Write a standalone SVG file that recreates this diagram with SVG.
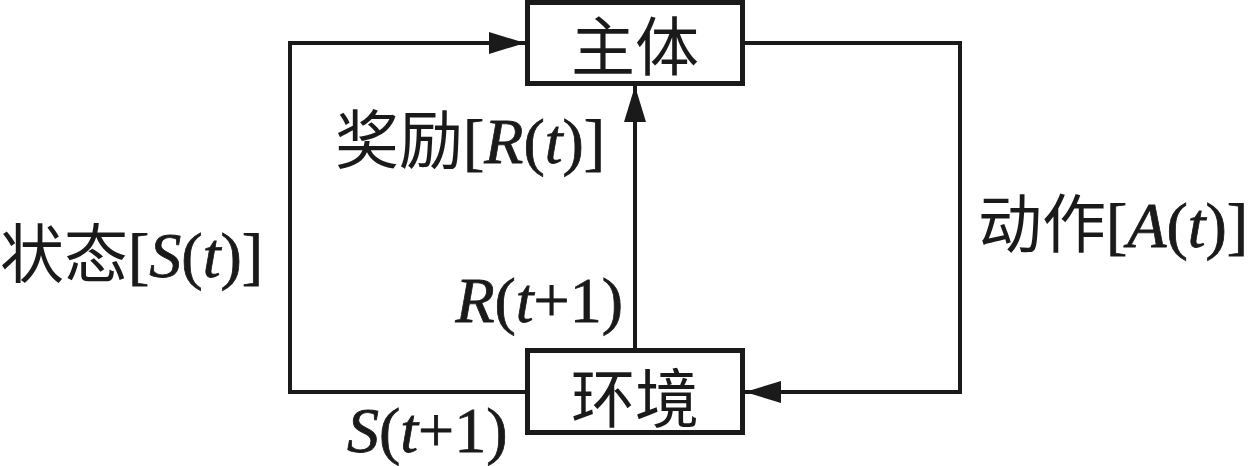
<svg xmlns="http://www.w3.org/2000/svg" width="1252" height="466" viewBox="0 0 1252 466">
<style>
.box{fill:#fff;stroke:#1a1a1a;stroke-width:5}
.conn{fill:none;stroke:#1a1a1a;stroke-width:4}
.t{font-family:'Liberation Serif',serif;font-size:64px;fill:#1a1a1a;stroke:#1a1a1a;stroke-width:0.8}
.c{font-family:'Noto Sans CJK SC',sans-serif;stroke-width:0}
.i{font-style:italic}
</style>
<defs>
<marker id="arr" viewBox="0 0 36 22" refX="36" refY="11" markerWidth="36" markerHeight="22" markerUnits="userSpaceOnUse" orient="auto">
<path d="M0,0 L36,11 L0,22 z" fill="#1a1a1a"/>
</marker>
</defs>
<rect width="1252" height="466" fill="#fff"/>
<g id="connectors">
<path class="conn" d="M527,392 H290 V43 H525" marker-end="url(#arr)"/>
<path class="conn" d="M742,43 H960 V392 H745" marker-end="url(#arr)"/>
<path class="conn" d="M635,350 V86" marker-end="url(#arr)"/>
</g>
<g id="agent">
<rect class="box" x="527.5" y="2.5" width="215" height="81"/>
<text class="t c" x="635" y="70" text-anchor="middle">主体</text>
</g>
<g id="environment">
<rect class="box" x="527.5" y="350.5" width="215" height="82"/>
<text class="t c" x="635" y="422" text-anchor="middle">环境</text>
</g>
<g id="labels">
<text class="t" x="335" y="163"><tspan class="c">奖励</tspan>[<tspan class="i">R</tspan>(<tspan class="i">t</tspan>)]</text>
<text class="t" x="0" y="277"><tspan class="c">状态</tspan>[<tspan class="i">S</tspan>(<tspan class="i">t</tspan>)]</text>
<text class="t" x="978" y="247"><tspan class="c">动作</tspan>[<tspan class="i">A</tspan>(<tspan class="i">t</tspan>)]</text>
<text class="t" x="623" y="322" text-anchor="end"><tspan class="i">R</tspan>(<tspan class="i">t</tspan>+1)</text>
<text class="t" x="347" y="452"><tspan class="i">S</tspan>(<tspan class="i">t</tspan>+1)</text>
</g>
</svg>
